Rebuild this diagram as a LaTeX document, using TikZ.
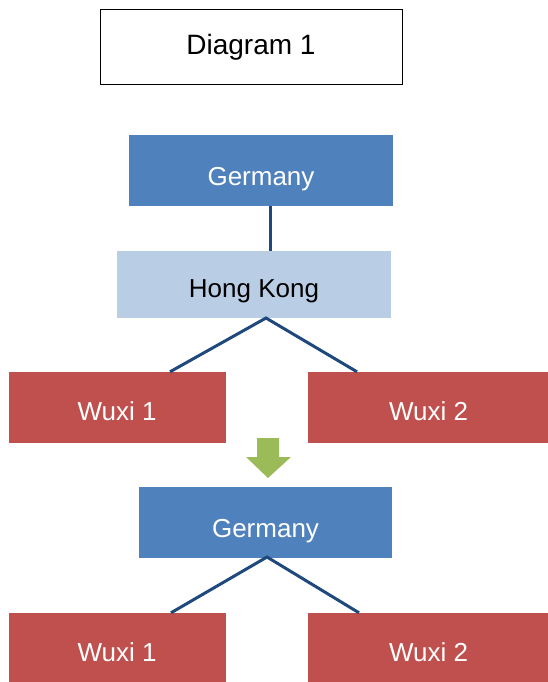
\documentclass[tikz,border=0pt]{standalone}
\usepackage{fontspec}
\setmainfont{Liberation Sans}
\usetikzlibrary{positioning}
\definecolor{topblue}{HTML}{4F81BD}
\definecolor{paleblue}{HTML}{B9CDE5}
\definecolor{siteRed}{HTML}{C0504D}
\definecolor{linkblue}{HTML}{1F497D}
\definecolor{arrowgreen}{HTML}{9BBB59}
\begin{document}
\begin{tikzpicture}[
  x=1pt, y=-1pt,
  font=\fontsize{26}{30}\selectfont,
  box/.style={inner sep=0pt, align=center},
  hq/.style={box, fill=topblue, text=white, text height=29pt, text depth=0pt},
  hub/.style={box, fill=paleblue, text=black, text height=25pt, text depth=0pt},
  plant/.style={box, fill=siteRed, text=white, text height=26pt, text depth=0pt,
    minimum width=217pt, minimum height=71pt},
  link/.style={draw=linkblue, line width=3pt}
]
\useasboundingbox (0,0) rectangle (548,682);
% title
\node[box, draw=black, line width=1pt, minimum width=302pt, minimum height=75pt,
  font=\fontsize{28}{32}\selectfont] (title) at (251,47.5) {Diagram 1};
% before
\node[hq, minimum width=264pt, minimum height=71pt] (ger1) at (261,170.5) {Germany};
\node[hub, minimum width=274pt, minimum height=67pt] (hk) at (254,284.5) {Hong Kong};
\node[plant] (w1a) at (117,407.5) {Wuxi 1};
\node[plant, minimum width=241pt] (w2a) at (428.5,407.5) {Wuxi 2};
\coordinate (hkjoin) at (266,318);
\draw[link] ([xshift=9pt]ger1.south) -- ([xshift=9pt]ger1.south |- hk.north);
\draw[link] ([xshift=53pt]w1a.north) -- (hkjoin) -- ([xshift=-71.5pt]w2a.north);
% arrow
\fill[arrowgreen] (257,438) -- (279,438) -- (279,457) -- (291,457) -- (268,478)
  -- (246,457) -- (257,457) -- cycle;
% after
\node[hq, minimum width=253pt, minimum height=71pt] (ger2) at (265.5,522.5) {Germany};
\node[plant] (w1b) at (117,648.5) {Wuxi 1};
\node[plant, minimum width=241pt] (w2b) at (428.5,648.5) {Wuxi 2};
\coordinate (gerjoin) at (267,557);
\draw[link] ([xshift=54pt]w1b.north) -- (gerjoin) -- ([xshift=-69.5pt]w2b.north);
\end{tikzpicture}
\end{document}
